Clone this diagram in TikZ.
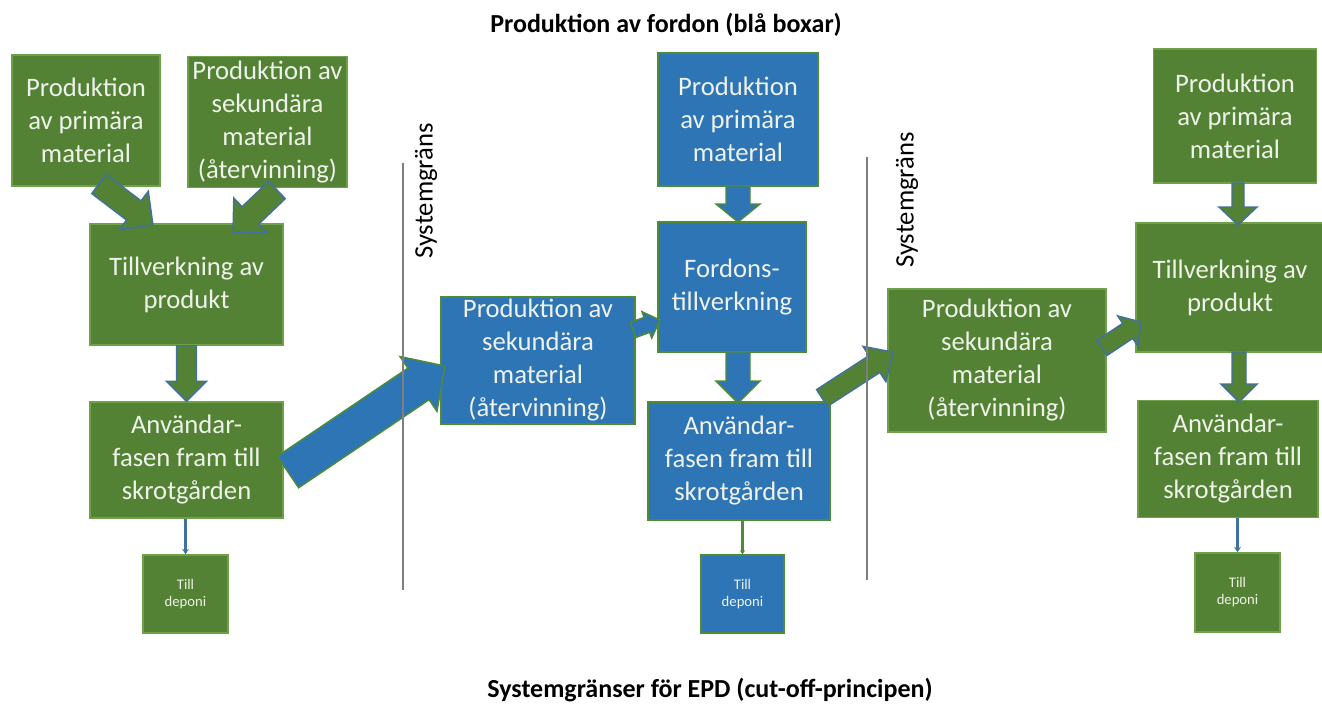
\documentclass[tikz,border=0pt]{standalone}
\usepackage{fontspec}
\setmainfont{Carlito}
\usetikzlibrary{arrows.meta,calc}
\definecolor{gfill}{HTML}{548235}
\definecolor{gedge}{HTML}{6FA04A}
\definecolor{bfill}{HTML}{2E75B6}
\definecolor{bedge}{HTML}{4F8A36}
\definecolor{aedge}{HTML}{41719C}
\definecolor{txt}{HTML}{EEF2EA}
\definecolor{sysline}{HTML}{7F7F7F}
\newcommand\blockarrow[6][]{%
  \path let \p1=(#2), \p2=(#3) in \pgfextra{%
    \pgfmathsetmacro\bxang{atan2(\y2-\y1,\x2-\x1)}%
    \pgfmathsetmacro\bxlen{veclen(\x2-\x1,\y2-\y1)}%
    \global\let\bxangG\bxang \global\let\bxlenG\bxlen};
  \draw[#1,shift={(#2)},rotate=\bxangG]
    (0pt,{-#4*0.75pt}) -- ({\bxlenG pt-#6*0.75pt},{-#4*0.75pt})
    -- ({\bxlenG pt-#6*0.75pt},{-#5*0.75pt}) -- ({\bxlenG pt},0pt)
    -- ({\bxlenG pt-#6*0.75pt},{#5*0.75pt}) -- ({\bxlenG pt-#6*0.75pt},{#4*0.75pt})
    -- (0pt,{#4*0.75pt}) -- cycle;
}
\tikzset{
  box/.style={rectangle, text=txt, align=center, inner sep=0pt,
    font=\fontsize{20}{24.75}\selectfont, line width=1.1pt},
  gbox/.style={box, fill=gfill, draw=gedge},
  bbox/.style={box, fill=bfill, draw=bedge},
  dep/.style={font=\fontsize{11}{12.8}\selectfont, minimum width=#1, text depth=2pt},
  garrow/.style={fill=gfill, draw=aedge, line width=1.1pt, line join=miter},
  barrow/.style={fill=bfill, draw=bedge, line width=1.1pt, line join=miter},
  sysgrans/.style={draw=sysline, line width=0.9pt},
  systext/.style={rotate=90, font=\fontsize{20}{24}\selectfont, text=black, inner sep=0pt},
  title/.style={font=\bfseries\fontsize{19.5}{24}\selectfont, text=black, inner sep=0pt},
  deplineb/.style={draw=aedge, line width=1.6pt, -{Stealth[length=4pt,width=5pt]}},
  deplineg/.style={draw=bedge, line width=1.6pt, -{Stealth[length=3pt,width=4pt]}},
}
\begin{document}
\begin{tikzpicture}[x=0.75pt,y=-0.75pt]
\useasboundingbox (0,0) rectangle (1322,704);
% titles
\node[title] (t1) at (666,25) {Produktion av fordon (blå boxar)};
\node[title] (t2) at (710,690) {Systemgränser för EPD (cut-off-principen)};
% left group (green)
\node[gbox, minimum width=148*0.75pt, minimum height=131*0.75pt] (g1) at (86,120.5) {Produktion\\av primära\\material};
\node[gbox, minimum width=159*0.75pt, minimum height=131*0.75pt] (g2) at (267.5,122) {Produktion av\\sekundära\\material\\(återvinning)};
\node[gbox, minimum width=193*0.75pt, minimum height=121*0.75pt] (g3) at (186.5,284.5) {Tillverkning av\\produkt};
\node[gbox, minimum width=193*0.75pt, minimum height=116*0.75pt] (g4) at (186.5,460) {Användar-\\fasen fram till\\skrotgården};
\node[gbox, dep=85*0.75pt, minimum height=78*0.75pt] (d1) at (185.5,594) {Till\\deponi};
% middle group (blue)
\node[bbox, minimum width=194*0.75pt, minimum height=127*0.75pt] (b1) at (538,360.5) {Produktion av\\sekundära\\material\\(återvinning)};
\node[bbox, minimum width=160*0.75pt, minimum height=133*0.75pt] (b2) at (738,119.5) {Produktion\\av primära\\material};
\node[bbox, minimum width=148*0.75pt, minimum height=130*0.75pt] (b3) at (732,287) {Fordons-\\tillverkning};
\node[bbox, minimum width=182*0.75pt, minimum height=118*0.75pt] (b4) at (739,461) {Användar-\\fasen fram till\\skrotgården};
\node[bbox, dep=83*0.75pt, minimum height=78*0.75pt] (d2) at (742.5,594) {Till\\deponi};
% right group (green)
\node[gbox, minimum width=218*0.75pt, minimum height=143*0.75pt] (g5) at (997,360.5) {Produktion av\\sekundära\\material\\(återvinning)};
\node[gbox, minimum width=163*0.75pt, minimum height=134*0.75pt] (g6) at (1235,116) {Produktion\\av primära\\material};
\node[gbox, minimum width=188*0.75pt, minimum height=129*0.75pt] (g7) at (1230,287.5) {Tillverkning av\\produkt};
\node[gbox, minimum width=180*0.75pt, minimum height=117*0.75pt] (g8) at (1228,459) {Användar-\\fasen fram till\\skrotgården};
\node[gbox, dep=85*0.75pt, minimum height=79*0.75pt] (d3) at (1237.5,592.5) {Till\\deponi};
% arrow end points
\coordinate (a1s) at (99,184);
\coordinate (a1e) at (153,225);
\coordinate (a2s) at (277,190);
\coordinate (a2e) at (233,232);
\coordinate (a4s) at (288,472);
\coordinate (a4e) at (445,366);
\coordinate (a5s) at (633,330);
\coordinate (a5e) at (660,320);
\coordinate (a8s) at (822,398);
\coordinate (a8e) at (893,352);
\coordinate (a9s) at (1102,348);
\coordinate (a9e) at (1141,322);
\coordinate (a6s) at (738,186);
\coordinate (a6e) at (738,222);
\coordinate (a7s) at (738,352);
\coordinate (a7e) at (738,403);
\coordinate (a10s) at (1238,183);
\coordinate (a10e) at (1238,225);
\coordinate (a11s) at (1239,352);
\coordinate (a11e) at (1239,402);
% block arrows
\blockarrow[garrow]{a1s}{a1e}{12}{24}{24}
\blockarrow[garrow]{a2s}{a2e}{12}{24}{24}
\blockarrow[garrow]{g3.south}{g4.north}{10}{20}{20}
\blockarrow[barrow]{a4s}{a4e}{19}{33}{32}
\blockarrow[barrow]{a5s}{a5e}{8}{14}{14}
\blockarrow[barrow]{a6s}{a6e}{12}{22}{18}
\blockarrow[barrow]{a7s}{a7e}{12}{22}{22}
\blockarrow[garrow]{a8s}{a8e}{10}{21}{22}
\blockarrow[garrow]{a9s}{a9e}{9}{18}{16}
\blockarrow[garrow]{a10s}{a10e}{6}{19}{18}
\blockarrow[garrow]{a11s}{a11e}{7}{18}{18}
% lines to deponi
\draw[deplineb] (g4.south -| d1.north) -- (d1.north);
\draw[deplineg] (b4.south -| d2.north) -- (d2.north);
\draw[deplineb] (g8.south -| d3.north) -- (d3.north);
% system boundaries
\coordinate (s1top) at (403,163);
\coordinate (s1bot) at (403,590);
\coordinate (s2top) at (867,157);
\coordinate (s2bot) at (867,580);
\draw[sysgrans] (s1top) -- (s1bot);
\draw[sysgrans] (s2top) -- (s2bot);
\node[systext] (st1) at (426,191) {Systemgräns};
\node[systext] (st2) at (907,200) {Systemgräns};
\end{tikzpicture}
\end{document}
